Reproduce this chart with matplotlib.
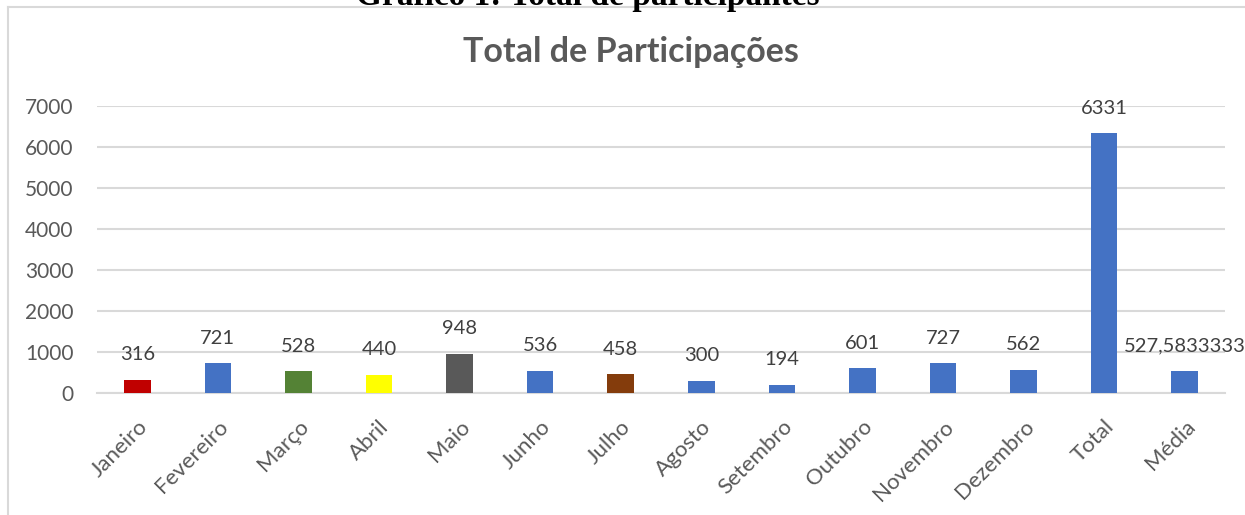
import matplotlib
matplotlib.use("Agg")
import matplotlib.pyplot as plt
from matplotlib.lines import Line2D

categories = ["Janeiro", "Fevereiro", "Março", "Abril", "Maio", "Junho", "Julho",
              "Agosto", "Setembro", "Outubro", "Novembro", "Dezembro", "Total", "Média"]
values = [316, 721, 528, 440, 948, 536, 458, 300, 194, 601, 727, 562, 6331, 527.5833333]
value_labels = ["316", "721", "528", "440", "948", "536", "458", "300", "194", "601",
                "727", "562", "6331", "527,5833333"]
yticks = [0, 1000, 2000, 3000, 4000, 5000, 6000, 7000]

blue = "#4472C4"
bar_colors = ["#C00000", blue, "#548235", "#FFFF00", "#595959", blue, "#843C0C",
              blue, blue, blue, blue, blue, blue, blue]

plt.rcParams["font.family"] = ["Lato", "DejaVu Sans"]

fig = plt.figure(figsize=(12.45, 5.15), dpi=100)
ax = fig.add_axes([97 / 1245, 1 - 393 / 515, (1225 - 97) / 1245, (393 - 106) / 515])

x = list(range(len(categories)))
ax.bar(x, values, width=0.33, color=bar_colors, zorder=3)
ax.set_xlim(-0.5, len(categories) - 0.5)
ax.set_ylim(0, 7000)
ax.set_yticks(yticks)
ax.set_yticklabels([str(t) for t in yticks], fontsize=15, color="#595959")
ax.set_xticks(x)
ax.set_xticklabels(categories, rotation=45, ha="right", rotation_mode="anchor",
                   fontsize=16, color="#595959")
ax.tick_params(axis="both", length=0)
ax.tick_params(axis="x", pad=17)
ax.tick_params(axis="y", pad=17)
ax.grid(axis="y", color="#D9D9D9", linewidth=1.5, zorder=0)
for s in ["top", "right", "left"]:
    ax.spines[s].set_visible(False)
ax.spines["bottom"].set_color("#D9D9D9")
ax.spines["bottom"].set_linewidth(1.5)

for xi, v, lab in zip(x, values, value_labels):
    ax.annotate(lab, (xi, v), xytext=(0, 12), textcoords="offset points",
                ha="center", va="bottom", fontsize=14.5, color="#404040",
                annotation_clip=False)

fig.text(631 / 1245, 1 - 52 / 515, "Total de Participações", ha="center", va="center",
         fontsize=24.5, fontweight="bold", color="#595959")

# outer chart frame (left and top edges visible)
fig.add_artist(Line2D([8 / 1245, 8 / 1245], [0, 1 - 7 / 515], color="#D9D9D9", linewidth=1.5))
fig.add_artist(Line2D([8 / 1245, 1], [1 - 7 / 515, 1 - 7 / 515], color="#D9D9D9", linewidth=1.5))

# document caption, cut off at the top edge as in the reference
fig.text(588 / 1245, 1 - 4.5 / 515, "Gráfico 1: Total de participantes", ha="center",
         va="baseline", fontsize=24, fontweight="bold", color="black",
         family=["Liberation Serif", "DejaVu Serif"])

fig.savefig("out.png", dpi=100)
